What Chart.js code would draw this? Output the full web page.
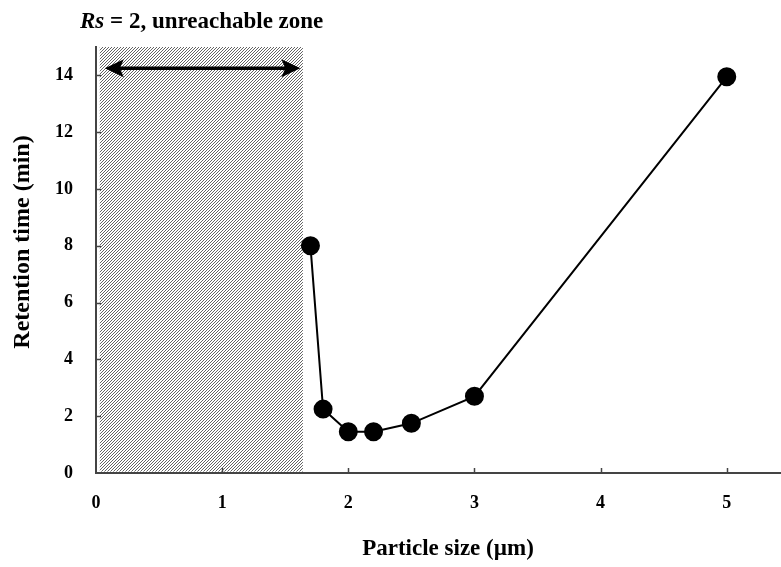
<!DOCTYPE html>
<html>
<head>
<meta charset="utf-8">
<script src="https://cdn.jsdelivr.net/npm/chart.js@4"></script>
<style>
html,body{margin:0;padding:0;background:#fff;}
#wrap{width:781px;height:567px;position:relative;}
</style>
</head>
<body>
<div id="wrap"><canvas id="c"></canvas></div>
<script>
// Data
const particleSize = [1.7, 1.8, 2.0, 2.2, 2.5, 3.0, 5.0];
const retentionTime = [8.0, 2.25, 1.45, 1.45, 1.75, 2.7, 13.95];
const xTicks = [0, 1, 2, 3, 4, 5];
const yTicks = [0, 2, 4, 6, 8, 10, 12, 14];
const zoneX = [0.03, 1.64];
const zoneY = [0.05, 15];
const arrowX = [0.07, 1.62];
const arrowY = [14.25];
const titleItalic = 'Rs';
const titleRest = ' = 2, unreachable zone';
const xTitle = 'Particle size (\u00b5m)';
const yTitle = 'Retention time (min)';

const SERIF = '"Liberation Serif", "Times New Roman", serif';

function makePattern(ctx){
  const p = document.createElement('canvas');
  p.width = 3; p.height = 3;
  const pc = p.getContext('2d');
  pc.fillStyle = '#fff';
  pc.fillRect(0,0,3,3);
  pc.fillStyle = '#626262';
  pc.fillRect(0,2,1,1);
  pc.fillRect(1,1,1,1);
  pc.fillRect(2,0,1,1);
  return ctx.createPattern(p,'repeat');
}

const decor = {
  id: 'decor',
  beforeDatasetsDraw(chart){
    const ctx = chart.ctx, xs = chart.scales.x, ys = chart.scales.y;
    // hatched zone
    const x0 = xs.getPixelForValue(zoneX[0]), x1 = xs.getPixelForValue(zoneX[1]);
    const y0 = ys.getPixelForValue(zoneY[1]), y1 = ys.getPixelForValue(zoneY[0]);
    ctx.save();
    ctx.fillStyle = makePattern(ctx);
    ctx.fillRect(x0, y0, x1-x0, y1-y0);
    ctx.restore();
    // arrow
    const ax0 = xs.getPixelForValue(arrowX[0]), ax1 = xs.getPixelForValue(arrowX[1]);
    const ay = ys.getPixelForValue(arrowY[0]);
    ctx.save();
    ctx.strokeStyle = '#000'; ctx.fillStyle = '#000'; ctx.lineWidth = 3.5;
    ctx.beginPath(); ctx.moveTo(ax0+12, ay); ctx.lineTo(ax1-12, ay); ctx.stroke();
    ctx.beginPath(); ctx.moveTo(ax0, ay); ctx.lineTo(ax0+19, ay-9); ctx.lineTo(ax0+15, ay); ctx.lineTo(ax0+19, ay+9); ctx.closePath(); ctx.fill();
    ctx.beginPath(); ctx.moveTo(ax1, ay); ctx.lineTo(ax1-19, ay-9); ctx.lineTo(ax1-15, ay); ctx.lineTo(ax1-19, ay+9); ctx.closePath(); ctx.fill();
    ctx.restore();
    // inward tick marks
    ctx.save();
    ctx.strokeStyle = '#444'; ctx.lineWidth = 1.5;
    const ca = chart.chartArea;
    xTicks.forEach(v => { if (v===0) return; const px = Math.round(xs.getPixelForValue(v))+0.5; ctx.beginPath(); ctx.moveTo(px, ca.bottom); ctx.lineTo(px, ca.bottom-5); ctx.stroke(); });
    yTicks.forEach(v => { if (v===0) return; const py = Math.round(ys.getPixelForValue(v))+0.5; ctx.beginPath(); ctx.moveTo(ca.left, py); ctx.lineTo(ca.left+5, py); ctx.stroke(); });
    ctx.restore();
  },
  afterDraw(chart){
    const ctx = chart.ctx;
    ctx.save();
    ctx.fillStyle = '#000';
    ctx.textBaseline = 'alphabetic';
    ctx.textAlign = 'left';
    let x = 80; const y = 28;
    ctx.font = 'italic bold 23px ' + SERIF;
    ctx.fillText(titleItalic, x, y);
    x += ctx.measureText(titleItalic).width;
    ctx.font = 'bold 23px ' + SERIF;
    ctx.fillText(titleRest, x, y);
    // axis titles
    ctx.textAlign = 'center';
    ctx.textBaseline = 'middle';
    ctx.font = 'bold 23px ' + SERIF;
    ctx.fillText(xTitle, 448, 549);
    ctx.translate(23, 242);
    ctx.rotate(-Math.PI/2);
    ctx.font = 'bold 24px ' + SERIF;
    ctx.fillText(yTitle, 0, 0);
    ctx.restore();
  }
};

new Chart(document.getElementById('c'), {
  type: 'scatter',
  data: {
    datasets: [{
      data: particleSize.map((x,i)=>({x, y: retentionTime[i]})),
      showLine: true,
      borderColor: '#000',
      borderWidth: 2,
      backgroundColor: '#000',
      pointBackgroundColor: '#000',
      pointBorderColor: '#000',
      pointRadius: 8.5,
      pointHoverRadius: 8.5,
      clip: false
    }]
  },
  options: {
    responsive: true,
    maintainAspectRatio: false,
    animation: false,
    events: [],
    layout: { autoPadding: false, padding: { top: 47, right: 0, left: 0, bottom: 0 } },
    plugins: { legend: { display: false }, tooltip: { enabled: false }, title: { display: false } },
    scales: {
      x: {
        type: 'linear', min: 0, max: 5.43,
        afterBuildTicks: s => { s.ticks = xTicks.map(v => ({ value: v })); },
        afterFit: s => { s.height = 94; },
        grid: { display: true, drawOnChartArea: false, drawTicks: false },
        border: { display: true, color: '#444', width: 2 },
        ticks: { padding: 20, color: '#000', font: { family: SERIF, size: 18, weight: 'bold' } },
        title: { display: false }
      },
      y: {
        type: 'linear', min: 0, max: 15,
        afterBuildTicks: s => { s.ticks = yTicks.map(v => ({ value: v })); },
        afterFit: s => { s.width = 96; },
        grid: { display: true, drawOnChartArea: false, drawTicks: false },
        border: { display: true, color: '#444', width: 2 },
        ticks: { padding: 23, color: '#000', font: { family: SERIF, size: 18, weight: 'bold' } },
        title: { display: false }
      }
    }
  },
  plugins: [decor]
});
</script>
</body>
</html>
